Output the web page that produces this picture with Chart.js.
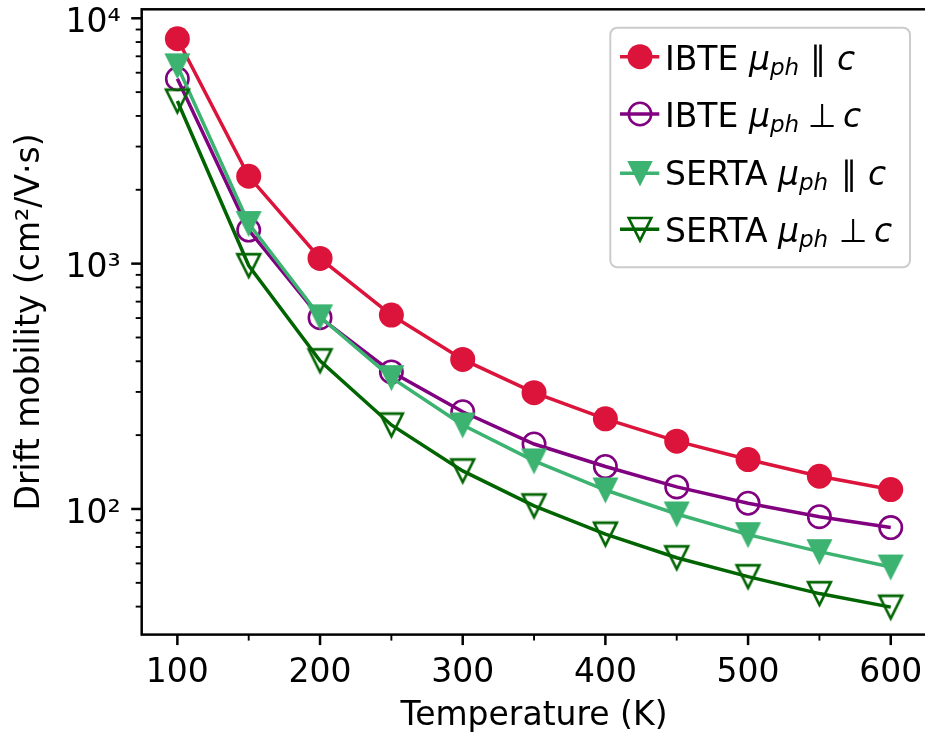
<!DOCTYPE html>
<html>
<head>
<meta charset="utf-8">
<title>Drift mobility vs temperature</title>
<script src="https://cdn.jsdelivr.net/npm/chart.js"></script>
<style>
  html, body { margin: 0; padding: 0; background: #fff; overflow: hidden; }
  #wrap { position: relative; width: 930px; height: 736px; }
  #chart { position: absolute; left: 0; top: 0; }
  #legend { position: absolute; left: 0; top: 0; pointer-events: none; }
</style>
</head>
<body>
<div id="wrap">
  <canvas id="chart" width="930" height="736"></canvas>
  <svg id="legend" width="930" height="736" xmlns="http://www.w3.org/2000/svg"
       font-family="DejaVu Sans" font-size="33" fill="#000">
    <rect x="610.3" y="27.7" width="299.7" height="239.6" rx="7" ry="7"
          fill="#fff" fill-opacity="0.8" stroke="#cccccc" stroke-width="2"/>
    <!-- IBTE parallel -->
    <line x1="620" y1="56.7" x2="659.3" y2="56.7" stroke="#DC143C" stroke-width="3.5"/>
    <circle cx="640" cy="56.7" r="12.5" fill="#DC143C"/>
    <text x="665" y="70">IBTE <tspan font-style="italic">μ</tspan><tspan font-style="italic" font-size="23" dy="5">ph</tspan><tspan x="818" dy="-5" text-anchor="middle">∥</tspan><tspan x="846" font-style="italic" text-anchor="middle">c</tspan></text>
    <!-- IBTE perpendicular -->
    <line x1="620" y1="114" x2="659.3" y2="114" stroke="#800080" stroke-width="3.5"/>
    <circle cx="640" cy="114" r="11.2" fill="none" stroke="#800080" stroke-width="2.6"/>
    <text x="665" y="126.7">IBTE <tspan font-style="italic">μ</tspan><tspan font-style="italic" font-size="23" dy="5">ph</tspan><tspan x="822" dy="-5" text-anchor="middle">⊥</tspan><tspan x="852" font-style="italic" text-anchor="middle">c</tspan></text>
    <!-- SERTA parallel -->
    <line x1="620" y1="173.3" x2="659.3" y2="173.3" stroke="#3CB371" stroke-width="3.5"/>
    <polygon points="628.5,161.8 651.5,161.8 640,184.8" fill="#3CB371" stroke="#3CB371" stroke-width="1.5"/>
    <text x="665" y="185">SERTA <tspan font-style="italic">μ</tspan><tspan font-style="italic" font-size="23" dy="5">ph</tspan><tspan x="849" dy="-5" text-anchor="middle">∥</tspan><tspan x="877" font-style="italic" text-anchor="middle">c</tspan></text>
    <!-- SERTA perpendicular -->
    <line x1="620" y1="229.3" x2="659.3" y2="229.3" stroke="#006400" stroke-width="3.5"/>
    <polygon points="628.7,218 651.3,218 640,240.6" fill="none" stroke="#006400" stroke-width="2.6"/>
    <text x="665" y="241.7">SERTA <tspan font-style="italic">μ</tspan><tspan font-style="italic" font-size="23" dy="5">ph</tspan><tspan x="853" dy="-5" text-anchor="middle">⊥</tspan><tspan x="883" font-style="italic" text-anchor="middle">c</tspan></text>
  </svg>
</div>
<script>
// Temperatures (K) at which the mobility was computed
const temperatures = [100, 150, 200, 250, 300, 350, 400, 450, 500, 550, 600];

// Phonon-limited drift mobility (cm^2/V·s)
const ibteParallel  = [8250, 2270, 1050, 617, 407, 298, 233, 189, 159, 136, 120];
const ibtePerp      = [5670, 1370, 602, 362, 249, 184, 149, 123, 105.5, 93, 84];
const sertaParallel = [6400, 1457, 607, 343, 220, 157, 119.5, 95.4, 78.6, 67, 58];
const sertaPerp     = [4600, 982, 402, 220, 143, 103, 79, 63.3, 53, 45.2, 39.8];

// Axis ranges and tick labels
const xRange = [75, 625];
const yRange = [30.76, 10880];
const xTickLabels = [100, 200, 300, 400, 500, 600];
const yMajorTicks = [100, 1000, 10000];
const yTickLabels = ['10²', '10³', '10⁴'];

const FONT = 'DejaVu Sans';
const FS = 33;
Chart.defaults.font.family = FONT;
Chart.defaults.color = '#000';

// Downward triangle marker ("v"), centred on its bounding box
function downTriangle(half, color, filled, lw) {
  const size = Math.ceil(2 * half + 3 * lw + 4);
  const c = document.createElement('canvas');
  c.width = size; c.height = size;
  const g = c.getContext('2d');
  const m = size / 2;
  g.beginPath();
  g.moveTo(m - half, m - half);
  g.lineTo(m + half, m - half);
  g.lineTo(m, m + half);
  g.closePath();
  g.lineJoin = 'miter';
  g.lineWidth = lw;
  g.strokeStyle = color;
  if (filled) { g.fillStyle = color; g.fill(); }
  g.stroke();
  return c;
}

const toPoints = (ys) => temperatures.map((t, i) => ({ x: t, y: ys[i] }));

const datasets = [
  {
    label: 'IBTE μph ∥ c', data: toPoints(ibteParallel),
    borderColor: '#DC143C', backgroundColor: '#DC143C', borderWidth: 3.5,
    pointStyle: 'circle', pointRadius: 12.5, pointBorderWidth: 0,
    pointBackgroundColor: '#DC143C', order: 4
  },
  {
    label: 'IBTE μph ⊥ c', data: toPoints(ibtePerp),
    borderColor: '#800080', backgroundColor: '#800080', borderWidth: 3.5,
    pointStyle: 'circle', pointRadius: 11.2, pointBorderWidth: 2.6,
    pointBorderColor: '#800080', pointBackgroundColor: 'rgba(0,0,0,0)', order: 3
  },
  {
    label: 'SERTA μph ∥ c', data: toPoints(sertaParallel),
    borderColor: '#3CB371', backgroundColor: '#3CB371', borderWidth: 3.5,
    pointStyle: downTriangle(11.8, '#3CB371', true, 1.5), pointRadius: 12, order: 2
  },
  {
    label: 'SERTA μph ⊥ c', data: toPoints(sertaPerp),
    borderColor: '#006400', backgroundColor: '#006400', borderWidth: 3.5,
    pointStyle: downTriangle(11.4, '#006400', false, 2.6), pointRadius: 12, order: 1
  }
].map(d => Object.assign({ tension: 0, fill: false, clip: false, showLine: true }, d));

// Box frame and outward major/minor tick marks
const frameAndTicks = {
  id: 'frameAndTicks',
  afterDraw(chart) {
    const { ctx, chartArea: a, scales: { x, y } } = chart;
    ctx.save();
    ctx.strokeStyle = '#000';
    ctx.lineCap = 'butt';
    for (let v = Math.ceil(x.min / 50) * 50; v <= x.max; v += 50) {
      const major = v % 100 === 0;
      const px = x.getPixelForValue(v);
      ctx.lineWidth = major ? 2.5 : 1.9;
      ctx.beginPath();
      ctx.moveTo(px, a.bottom);
      ctx.lineTo(px, a.bottom + (major ? 10.5 : 6));
      ctx.stroke();
    }
    const e0 = Math.floor(Math.log10(y.min)), e1 = Math.ceil(Math.log10(y.max));
    for (let e = e0; e <= e1; e++) {
      for (let d = 1; d <= 9; d++) {
        const v = d * Math.pow(10, e);
        if (v < y.min || v > y.max) continue;
        const major = d === 1;
        const py = y.getPixelForValue(v);
        ctx.lineWidth = major ? 2.5 : 1.9;
        ctx.beginPath();
        ctx.moveTo(a.left, py);
        ctx.lineTo(a.left - (major ? 10.5 : 6), py);
        ctx.stroke();
      }
    }
    ctx.lineWidth = 2.5;
    ctx.strokeRect(a.left, a.top, a.right - a.left, a.bottom - a.top);
    ctx.restore();
  }
};

new Chart(document.getElementById('chart'), {
  type: 'line',
  data: { datasets },
  options: {
    responsive: false,
    devicePixelRatio: 1,
    animation: false,
    events: [],
    layout: { autoPadding: false, padding: { left: 0, top: 9.3, right: 3.6, bottom: 0 } },
    plugins: { legend: { display: false }, tooltip: { enabled: false } },
    scales: {
      x: {
        type: 'linear', position: 'bottom', min: xRange[0], max: xRange[1],
        afterBuildTicks(s) { s.ticks = xTickLabels.map(v => ({ value: v })); },
        afterFit(s) { s.height = 101.4; s.paddingLeft = 0; s.paddingRight = 0; },
        grid: { display: false, drawTicks: false },
        border: { display: false },
        ticks: {
          autoSkip: false, maxRotation: 0, padding: 19, font: { size: FS }, color: '#000',
          callback: (v) => String(v)
        },
        title: { display: true, text: 'Temperature (K)', font: { size: FS }, color: '#000',
                 padding: { top: 0, bottom: 0 } }
      },
      y: {
        type: 'logarithmic', position: 'left', min: yRange[0], max: yRange[1],
        afterBuildTicks(s) { s.ticks = yMajorTicks.map(v => ({ value: v, major: true })); },
        afterFit(s) { s.width = 141.7; s.paddingTop = 0; s.paddingBottom = 0; },
        grid: { display: false, drawTicks: false },
        border: { display: false },
        ticks: {
          autoSkip: false, padding: 21, labelOffset: 5, font: { size: FS }, color: '#000',
          callback: (v, i) => yTickLabels[i]
        },
        title: { display: true, text: 'Drift mobility (cm²/V·s)', font: { size: FS }, color: '#000',
                 padding: { top: 11, bottom: 0 } }
      }
    }
  },
  plugins: [frameAndTicks]
});
</script>
</body>
</html>
